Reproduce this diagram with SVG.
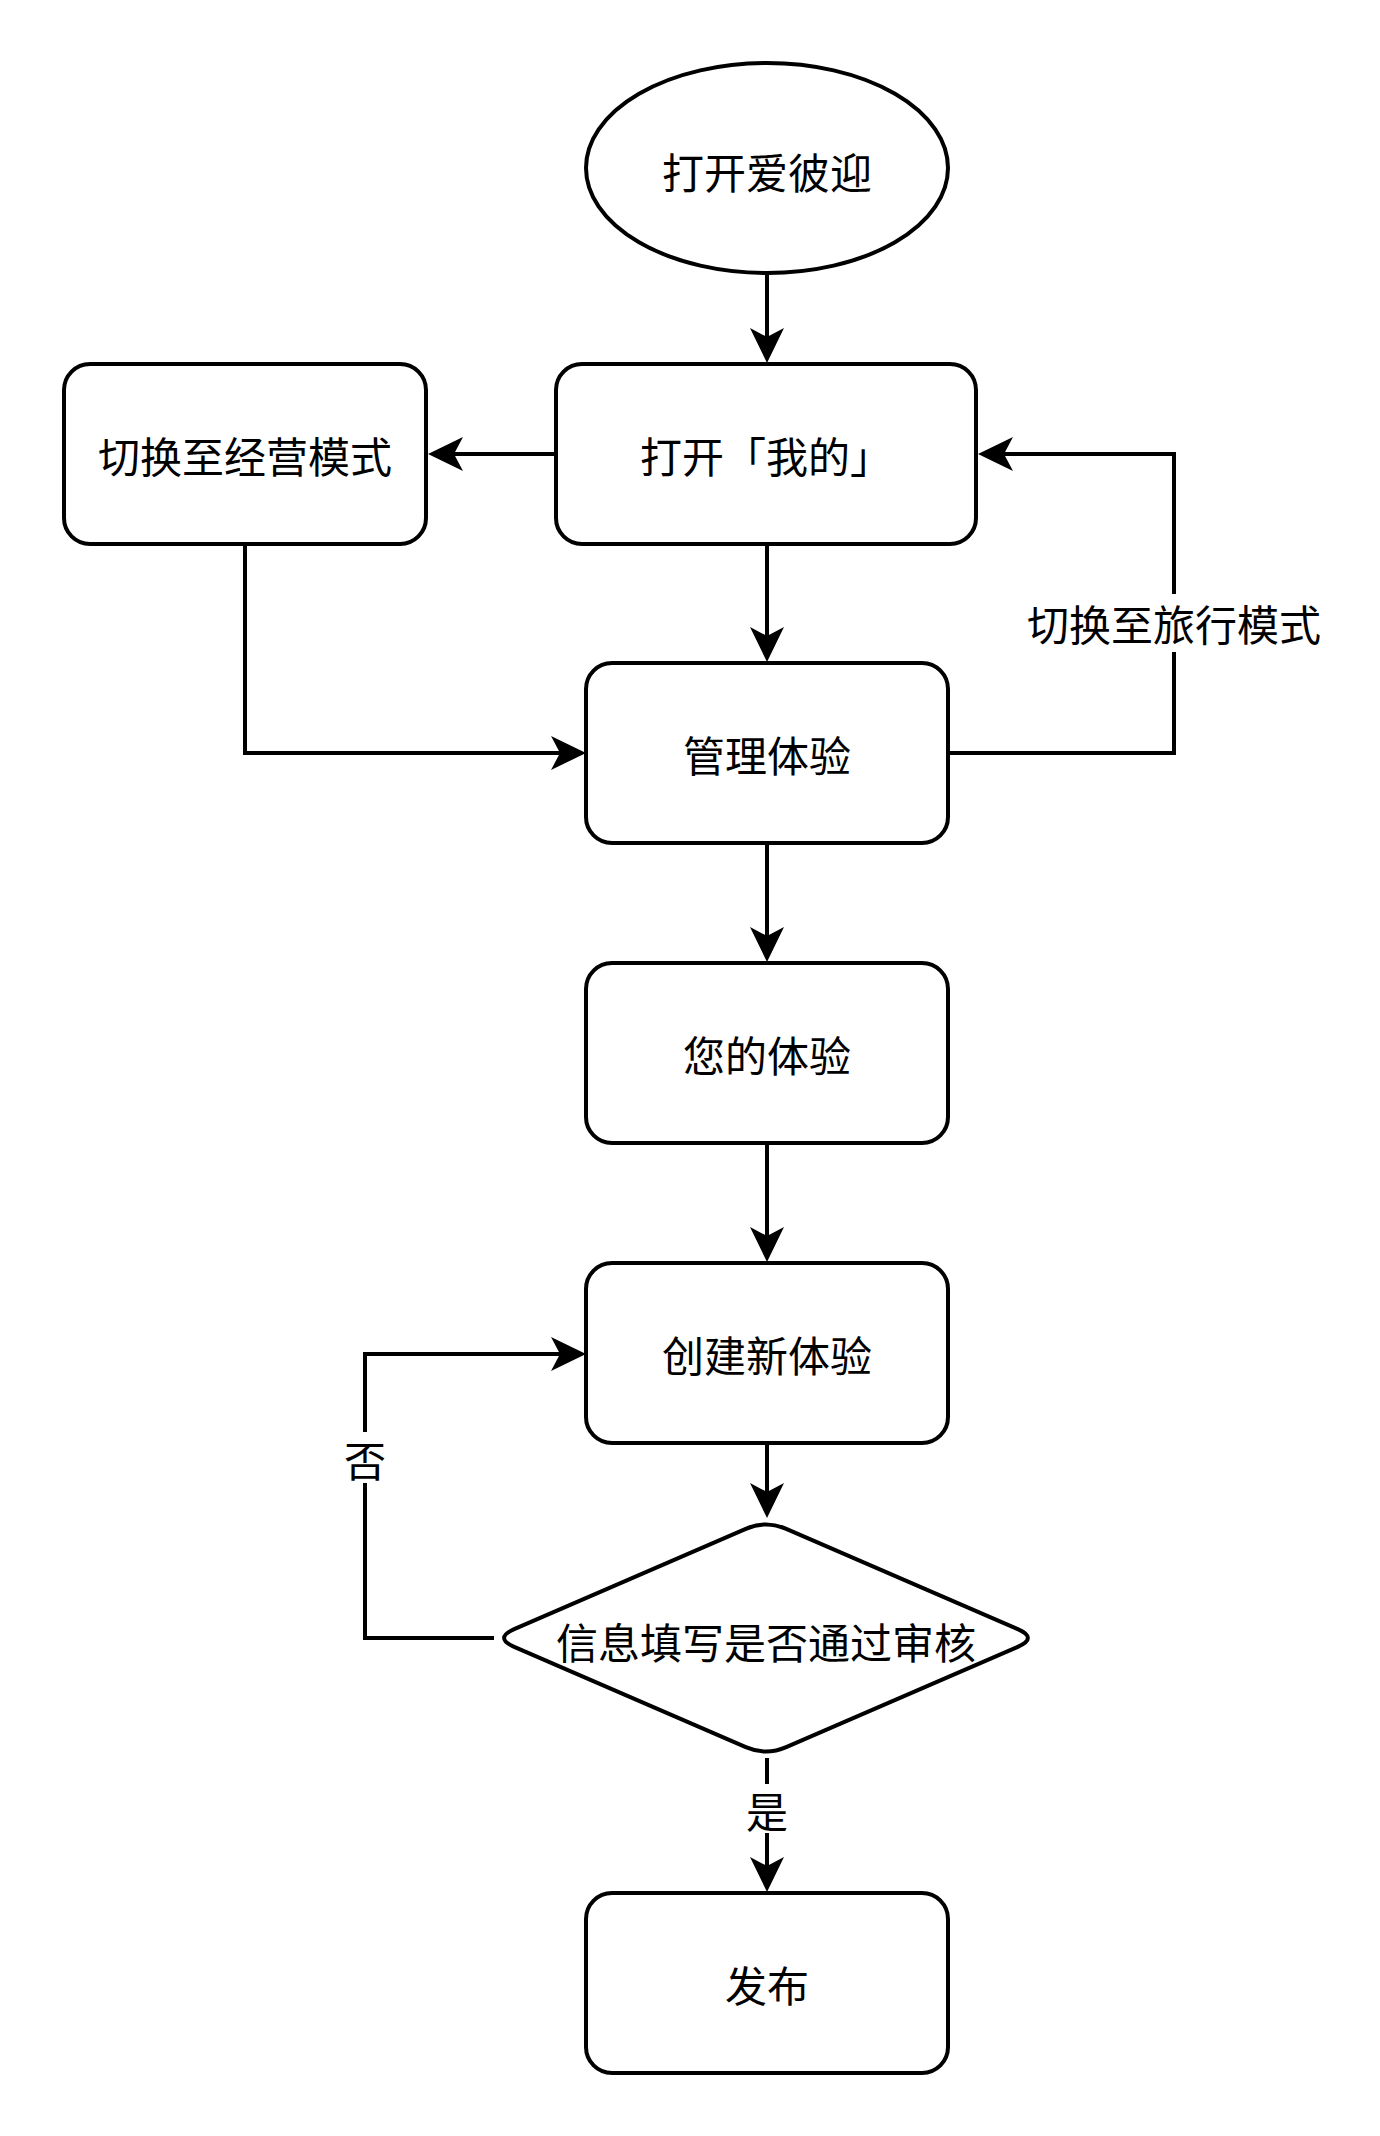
<svg xmlns="http://www.w3.org/2000/svg" width="1380" height="2136" viewBox="0 0 1380 2136">
  <style>
    .shape { fill: #ffffff; stroke: #000000; stroke-width: 4; }
    .edge { fill: none; stroke: #000000; stroke-width: 4; }
    .label { font-family: "Noto Sans CJK SC", "Noto Sans", sans-serif; font-size: 42px; fill: #000000; text-anchor: middle; dominant-baseline: central; }
    .label-bg { fill: #ffffff; stroke: none; }
  </style>
  <defs>
    <marker id="arrow" markerUnits="userSpaceOnUse" viewBox="0 -20 40 40" markerWidth="40" markerHeight="40" refX="9" refY="0" orient="auto">
      <path d="M0,-17 L35,0 L0,17 L9,0 Z" fill="#000000"/>
    </marker>
  </defs>
  <rect width="1380" height="2136" fill="#ffffff"/>

  <g id="connectors">
    <!-- start -> open "mine" -->
    <path class="edge" d="M767,275 V337" marker-end="url(#arrow)"/>
    <!-- open "mine" -> business mode -->
    <path class="edge" d="M556,454 H454" marker-end="url(#arrow)"/>
    <!-- open "mine" -> manage experiences -->
    <path class="edge" d="M767,544 V636" marker-end="url(#arrow)"/>
    <!-- business mode -> manage experiences -->
    <path class="edge" d="M245,544 V753 H560" marker-end="url(#arrow)"/>
    <!-- manage experiences -> back to open "mine" (travel mode) -->
    <path class="edge" d="M948,753 H1174 V454 H1004" marker-end="url(#arrow)"/>
    <!-- manage -> your experiences -->
    <path class="edge" d="M767,843 V936" marker-end="url(#arrow)"/>
    <!-- your experiences -> create -->
    <path class="edge" d="M767,1143 V1236" marker-end="url(#arrow)"/>
    <!-- create -> review decision -->
    <path class="edge" d="M767,1443 V1492" marker-end="url(#arrow)"/>
    <!-- decision "no" -> create -->
    <path class="edge" d="M494,1638 H365 V1354 H560" marker-end="url(#arrow)"/>
    <!-- decision "yes" -> publish -->
    <path class="edge" d="M767,1758 V1866" marker-end="url(#arrow)"/>

    <g id="edge-label-travel">
      <rect class="label-bg" x="1024" y="594" width="300" height="58"/>
      <text class="label" x="1174" y="622">切换至旅行模式</text>
    </g>
    <g id="edge-label-no">
      <rect class="label-bg" x="343" y="1432" width="44" height="51"/>
      <text class="label" x="365" y="1458">否</text>
    </g>
    <g id="edge-label-yes">
      <rect class="label-bg" x="745" y="1784" width="44" height="49"/>
      <text class="label" x="767" y="1809">是</text>
    </g>
  </g>

  <g id="node-start">
    <ellipse class="shape" cx="767" cy="168" rx="181" ry="105"/>
    <text class="label" x="767" y="170">打开爱彼迎</text>
  </g>

  <g id="node-open-mine">
    <rect class="shape" x="556" y="364" width="420" height="180" rx="26" ry="26"/>
    <text class="label" x="766" y="454">打开「我的」</text>
  </g>

  <g id="node-business-mode">
    <rect class="shape" x="64" y="364" width="362" height="180" rx="26" ry="26"/>
    <text class="label" x="245" y="454">切换至经营模式</text>
  </g>

  <g id="node-manage">
    <rect class="shape" x="586" y="663" width="362" height="180" rx="26" ry="26"/>
    <text class="label" x="767" y="753">管理体验</text>
  </g>

  <g id="node-yours">
    <rect class="shape" x="586" y="963" width="362" height="180" rx="26" ry="26"/>
    <text class="label" x="767" y="1053">您的体验</text>
  </g>

  <g id="node-create">
    <rect class="shape" x="586" y="1263" width="362" height="180" rx="26" ry="26"/>
    <text class="label" x="767" y="1353">创建新体验</text>
  </g>

  <g id="node-review">
    <path class="shape" d="M745.8,1528.8 Q766,1520 786.2,1528.8 L1017.8,1629.2 Q1038,1638 1017.8,1646.8 L786.2,1747.2 Q766,1756 745.8,1747.2 L514.2,1646.8 Q494,1638 514.2,1629.2 Z"/>
    <text class="label" x="766" y="1640">信息填写是否通过审核</text>
  </g>

  <g id="node-publish">
    <rect class="shape" x="586" y="1893" width="362" height="180" rx="26" ry="26"/>
    <text class="label" x="767" y="1983">发布</text>
  </g>
</svg>
